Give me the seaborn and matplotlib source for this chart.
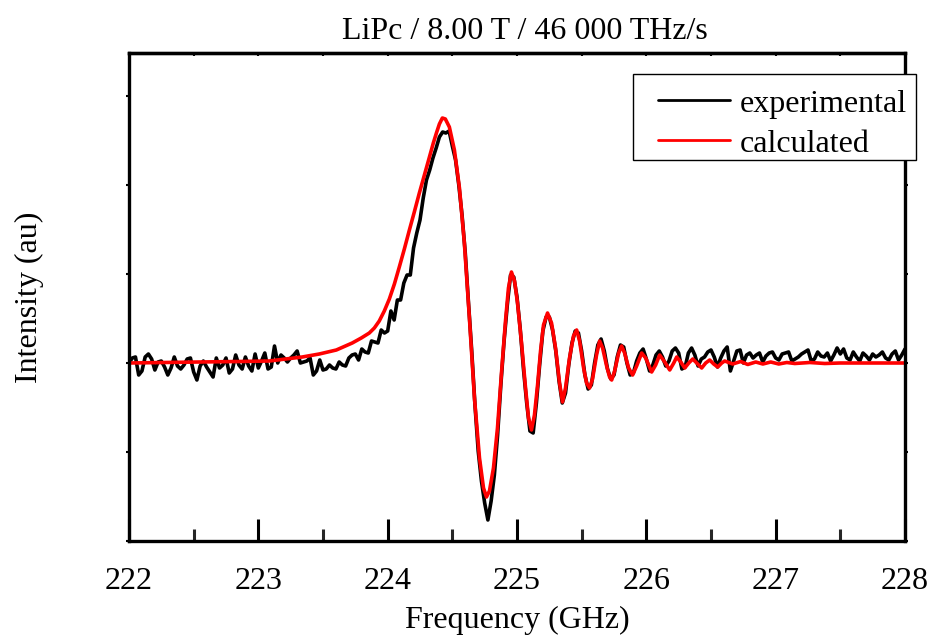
import numpy as np
import matplotlib
matplotlib.use("Agg")
import matplotlib.pyplot as plt
import seaborn as sns
from matplotlib.ticker import MultipleLocator
from matplotlib.patches import Rectangle

# ---------------- data ----------------
title = "LiPc / 8.00 T / 46 000 THz/s"
x_label = "Frequency (GHz)"
y_label = "Intensity (au)"
x_ticks = [222, 223, 224, 225, 226, 227, 228]
series_names = ["experimental", "calculated"]

# experimental trace, sampled on a uniform 0.025 GHz grid from 222 to 228 GHz
exp_int = [
    0, 5, 6, -12, -8, 6, 9, 4, -7, 1,
    2, -4, -12, -5, 6, -3, -6, -2, 4, 5,
    -9, -17, -3, 2, -4, -9, -14, 5, -5, -2,
    5, -10, -6, 8, -2, -6, 6, -3, -8, 9,
    -5, 2, 10, -6, -4, 17, 0, 8, 5, 1,
    5, 8, 12, 0, 1, 2, 5, -12, -8, 3,
    -7, -6, -2, -5, -6, 1, -2, -3, 5, 8,
    9, 3, 14, 11, 10, 22, 21, 20, 33, 30,
    32, 52, 43, 63, 63, 80, 88, 88, 115, 130,
    143, 165, 183, 193, 205, 215, 226, 231, 230, 232,
    217, 203, 178, 148, 110, 60, 12, -42, -88, -118,
    -140, -157, -138, -112, -72, -22, 22, 58, 88, 86,
    66, 34, -6, -40, -68, -70, -40, -2, 32, 46,
    46, 33, 12, -18, -40, -30, -2, 20, 32, 30,
    12, -12, -26, -22, 0, 18, 24, 12, -6, -16,
    -12, 6, 18, 16, 0, -12, -10, 2, 10, 14,
    4, -8, -2, 8, 12, 6, -3, 2, 12, 15,
    10, -6, -4, 10, 15, 8, -3, 4, 6, 11,
    13, 6, -4, 5, 12, 16, -8, 2, 12, 13,
    0, 8, 10, 5, 8, 10, 1, 7, 10, 11,
    5, 3, 9, 10, 11, 2, 4, 6, 9, 11,
    13, 2, 4, 11, 7, 6, 10, 2, 8, 15,
    9, 14, 5, 3, 11, 6, 2, 10, 7, 3,
    9, 6, 8, 11, 5, 3, 9, 12, 3, 8, 14,
]
exp_freq = np.linspace(222.0, 228.0, len(exp_int))

calc_freq = [
    222.000, 222.542, 222.852, 223.084, 223.339, 223.471, 223.603, 223.726, 223.796, 223.858,
    223.897, 223.935, 223.974, 224.013, 224.052, 224.090, 224.129, 224.168, 224.206, 224.245,
    224.284, 224.323, 224.353, 224.377, 224.400, 224.423, 224.446, 224.477, 224.516, 224.555,
    224.593, 224.632, 224.671, 224.710, 224.741, 224.764, 224.787, 224.818, 224.849, 224.880,
    224.911, 224.934, 224.957, 224.981, 225.004, 225.035, 225.066, 225.089, 225.112, 225.135,
    225.159, 225.182, 225.205, 225.236, 225.267, 225.298, 225.329, 225.352, 225.375, 225.406,
    225.437, 225.461, 225.484, 225.515, 225.538, 225.561, 225.584, 225.615, 225.639, 225.662,
    225.693, 225.716, 225.732, 225.755, 225.786, 225.809, 225.832, 225.863, 225.894, 225.925,
    225.964, 225.995, 226.041, 226.072, 226.103, 226.142, 226.181, 226.212, 226.235, 226.266,
    226.297, 226.328, 226.359, 226.397, 226.428, 226.459, 226.490, 226.521, 226.552, 226.583,
    226.606, 226.668, 226.730, 226.784, 226.846, 226.901, 226.962, 227.024, 227.086, 227.148,
    227.264, 227.380, 227.497, 227.729, 228.000,
]
calc_int = [
    0, 1, 1.5, 2, 6, 9, 13, 20, 25, 30,
    35, 42, 52, 64, 79, 96, 114, 133, 151, 170,
    188, 206, 220, 230, 239, 245, 244, 236, 213, 175,
    120, 45, -35, -95, -125, -134, -128, -105, -65, -10,
    42, 75, 91, 82, 60, 20, -25, -55, -67, -52,
    -22, 12, 38, 50, 40, 15, -20, -39, -25, 5,
    27, 33, 22, -5, -20, -25, -16, 8, 22, 15,
    -3, -14, -17, -8, 10, 17, 10, -5, -12, -3,
    10, 5, -9, -2, 8, 1, -7, 0, 6, 1,
    -5, 0, 4, -1, -5, 0, 3, -1, -4, 0,
    2, -1, 1.5, -1.5, 1, -1, 1, -1, 0.5, -0.5,
    0.5, -0.5, 0, 0, 0,
]

# ---------------- style ----------------
sns.set_theme(style="white")
plt.rcParams["font.family"] = ["Liberation Serif", "DejaVu Serif"]
plt.rcParams["text.color"] = "black"
plt.rcParams["axes.labelcolor"] = "black"

FS = 23
W, H = 930, 636
fig = plt.figure(figsize=(9.3, 6.36), dpi=100)
ax = fig.add_axes([129 / W, 1 - 541 / H, 776 / W, 488 / H])

sns.lineplot(x=exp_freq, y=exp_int, ax=ax, color="black", lw=2.6,
             label=series_names[0], estimator=None, sort=False)
sns.lineplot(x=calc_freq, y=calc_int, ax=ax, color="#ff0000", lw=2.6,
             label=series_names[1], estimator=None, sort=False)

ax.set_xlim(222, 228)
ax.set_ylim(-178, 310)
ax.set_xticks(x_ticks)
ax.set_xticklabels([str(t) for t in x_ticks])
ax.xaxis.set_minor_locator(MultipleLocator(0.5))
ax.set_yticks([-178 + 89 * k for k in range(6)])

ax.tick_params(axis="x", which="major", direction="in", length=16, width=2.2,
               labelsize=FS, pad=19, colors="black", bottom=True, top=False)
ax.tick_params(axis="x", which="minor", direction="in", length=9, width=2.2,
               bottom=True, top=False)
ax.tick_params(axis="y", which="major", direction="out", length=2, width=1.5,
               left=True, right=True, labelleft=False, colors="black")

for sp in ax.spines.values():
    sp.set_visible(True)
    sp.set_linewidth(2.4)
    sp.set_color("black")

top = ax.secondary_xaxis("top")
top.set_xticks(x_ticks)
top.xaxis.set_minor_locator(MultipleLocator(0.5))
top.tick_params(axis="x", which="both", direction="in", length=2, width=1.5,
                labeltop=False, top=True, colors="black")
top.spines["top"].set_linewidth(2.4)

ax.set_xlabel(x_label, fontsize=FS)
ax.set_ylabel(y_label, fontsize=FS)
ax.xaxis.set_label_coords(0.5, -0.132)
ax.yaxis.set_label_coords(-0.11, 0.5)
ax.set_title(title, fontsize=FS, pad=10, x=0.51)

# legend box (frame drawn separately so padding matches the reference)
box = Rectangle((633 / W, 1 - 160 / H), 283 / W, 86 / H, transform=fig.transFigure,
                facecolor="white", edgecolor="black", linewidth=1.0,
                clip_on=False, zorder=4)
ax.add_patch(box)
leg = ax.legend(loc="upper left", bbox_to_anchor=(649 / W, 1 - 80 / H),
                bbox_transform=fig.transFigure, fontsize=FS, frameon=False,
                borderpad=0.29, labelspacing=0.33, handlelength=2.25,
                handletextpad=0.3, borderaxespad=0)
leg.set_zorder(5)
for h in leg.get_lines():
    h.set_linewidth(2.0)

fig.savefig("out.png", dpi=100)
